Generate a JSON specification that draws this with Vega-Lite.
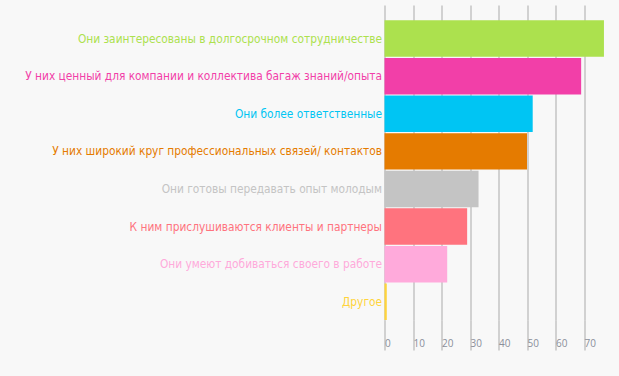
{
  "$schema": "https://vega.github.io/schema/vega-lite/v6.json",
  "autosize": {"type": "none"},
  "padding": {"left": 384.5, "top": 5, "right": 6.5, "bottom": 56},
  "width": 228,
  "height": 315,
  "background": "#f8f8f8",
  "data": {
    "values": [
      {"reason": "Они заинтересованы в долгосрочном сотрудничестве", "value": 77},
      {"reason": "У них ценный для компании и коллектива багаж знаний/опыта", "value": 69},
      {"reason": "Они более ответственные", "value": 52},
      {"reason": "У них широкий круг профессиональных связей/ контактов", "value": 50},
      {"reason": "Они готовы передавать опыт молодым", "value": 33},
      {"reason": "К ним прислушиваются клиенты и партнеры", "value": 29},
      {"reason": "Они умеют добиваться своего в работе", "value": 22},
      {"reason": "Другое", "value": 0.8}
    ]
  },
  "mark": {"type": "bar"},
  "encoding": {
    "y": {
      "field": "reason",
      "type": "nominal",
      "sort": null,
      "scale": {"paddingInner": 0.03, "paddingOuter": 0.204, "align": 1},
      "axis": {
        "title": null,
        "ticks": false,
        "domain": false,
        "labelPadding": 3,
        "labelLimit": 400,
        "labelFont": "DejaVu Sans Condensed, Roboto Condensed, Roboto, sans-serif",
        "labelFontSize": 11.8,
        "labelColor": {"expr": "scale('color', datum.value)"}
      }
    },
    "x": {
      "field": "value",
      "type": "quantitative",
      "scale": {"domain": [0, 80], "nice": false},
      "axis": {
        "title": null,
        "values": [0, 10, 20, 30, 40, 50, 60, 70],
        "grid": true,
        "gridColor": "#aaaaaa",
        "gridOpacity": 1,
        "domain": false,
        "tickSize": 30,
        "tickColor": "#aaaaaa",
        "labelAlign": "left",
        "labelBaseline": "top",
        "labelPadding": -12,
        "labelDx": 2,
        "labelFont": "Open Sans",
        "labelFontSize": 10,
        "labelColor": "#8a8f9a"
      }
    },
    "color": {
      "field": "reason",
      "type": "nominal",
      "scale": {
        "domain": [
          "Они заинтересованы в долгосрочном сотрудничестве",
          "У них ценный для компании и коллектива багаж знаний/опыта",
          "Они более ответственные",
          "У них широкий круг профессиональных связей/ контактов",
          "Они готовы передавать опыт молодым",
          "К ним прислушиваются клиенты и партнеры",
          "Они умеют добиваться своего в работе",
          "Другое"
        ],
        "range": ["#ace14e", "#f23fa8", "#00c5f3", "#e57b00", "#c4c4c4", "#ff737e", "#ffaadb", "#ffd43b"]
      },
      "legend": null
    }
  },
  "config": {"view": {"stroke": null}}
}
